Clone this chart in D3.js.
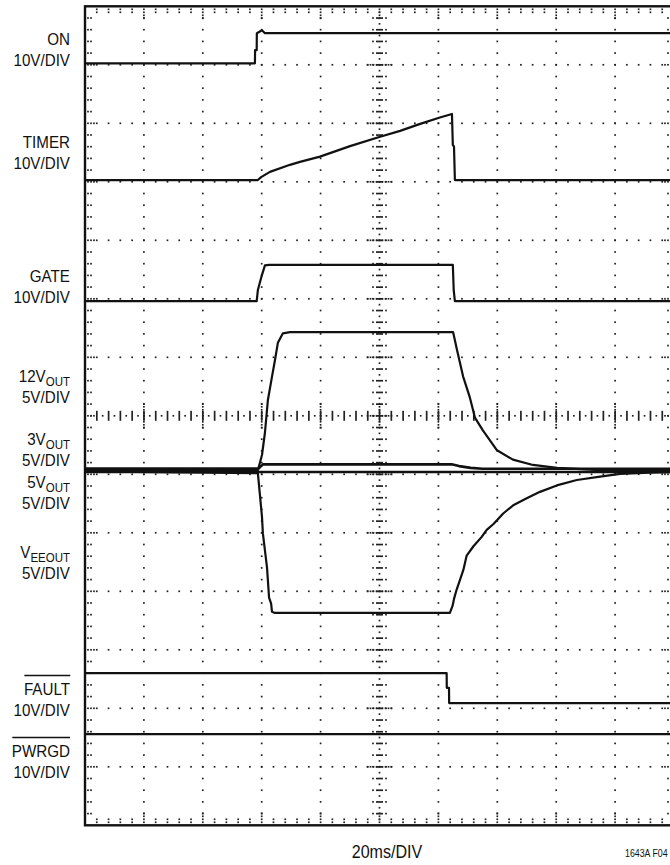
<!DOCTYPE html>
<html>
<head>
<meta charset="utf-8">
<script src="https://cdn.jsdelivr.net/npm/d3@7"></script>
<style>
body { margin: 0; background: #fff; }
svg { display: block; }
text { font-family: "Liberation Sans", Arial, Helvetica, sans-serif; fill: #111; }
</style>
</head>
<body>
<script>
// scope settings: 10 x 14 divisions, 20ms/div
var timeSpan = 200;

// traces: time in ms, values in volts
var onT = [0, 57.7, 57.75, 58.3, 58.35, 60.1, 61.1, 200];
var onV = [0.26, 0.26, 2.5, 2.5, 5.4, 5.9, 5.4, 5.4];

var timerT = [0, 58.7, 59.8, 62.8, 69.6, 73.0, 79.8, 90.0, 100.2, 107.0, 113.8, 120.5, 124.6, 124.9, 125.3, 125.6, 200];
var timerV = [0.3, 0.3, 0.8, 1.7, 2.9, 3.4, 4.3, 6.1, 7.7, 8.7, 9.9, 11.0, 11.6, 6.3, 6.0, 0.3, 0.3];

var gateT = [0, 58.3, 58.7, 60.1, 61.1, 62.5, 124.9, 125.2, 125.6, 200];
var gateV = [-0.4, -0.4, 1.5, 4.1, 5.7, 5.8, 5.8, 1.5, -0.4, -0.4];

var v12T = [0, 58.7, 60.1, 61.1, 62.1, 63.5, 64.5, 65.5, 67.2, 69.6, 125.0, 125.6, 126.3, 128.4, 130.7, 132.4, 135.1, 139.9, 145.3, 152.1, 160.3, 174.9, 200];
var v12V = [0, 0, 1.3, 3.2, 6.0, 8.0, 9.4, 10.9, 11.7, 11.8, 11.8, 11.1, 10.3, 8.0, 6.2, 4.5, 3.4, 1.7, 0.9, 0.45, 0.2, 0, 0];

var v3T = [0, 59.0, 60.4, 124.5, 127.0, 131.0, 135.0, 200];
var v3V = [0.15, 0.15, 0.5, 0.5, 0.35, 0.2, 0.12, 0.12];

var v5T = [0, 200];
var v5V = [-0.15, -0.15];

var veeT = [0, 58.7, 60.1, 60.4, 61.8, 62.5, 63.2, 63.5, 64.5, 123.9, 124.8, 125.3, 126.2, 127.3, 128.5, 129.6, 131.9, 134.7, 136.4, 138.7, 142.0, 145.4, 150.0, 154.5, 160.2, 167.0, 174.9, 181.7, 191.9, 200];
var veeV = [-0.1, -0.25, -4.0, -5.4, -8.3, -10.9, -11.4, -12.1, -12.2, -12.2, -11.6, -11.0, -10.2, -9.4, -8.5, -7.3, -6.5, -5.7, -5.1, -4.6, -3.7, -3.0, -2.4, -1.85, -1.3, -0.84, -0.55, -0.32, -0.2, -0.17];

var faultT = [0, 122.8, 122.85, 123.6, 123.65, 200];
var faultV = [5.1, 5.1, 2.6, 2.6, 0, 0];

var pwrgdT = [0, 200];
var pwrgdV = [0, 0];

// channel ground (divisions from top) and volts per division
var channelNames = ['ON', 'TIMER', 'GATE', '12V', '3V', '5V', 'VEE', 'FAULT', 'PWRGD'];
var channelGround = [1, 3, 5, 7.93, 7.93, 7.93, 7.93, 11.91, 12.44];
var channelScale = [10, 10, 10, 5, 5, 5, 5, 10, 10];
var channelT = [onT, timerT, gateT, v12T, v3T, v5T, veeT, faultT, pwrgdT];
var channelV = [onV, timerV, gateV, v12V, v3V, v5V, veeV, faultV, pwrgdV];

// labels at the left: [main, subscript] per line
var labelLines = [
    [['ON', ''], ['10V/DIV', '']],
    [['TIMER', ''], ['10V/DIV', '']],
    [['GATE', ''], ['10V/DIV', '']],
    [['12V', 'OUT'], ['5V/DIV', '']],
    [['3V', 'OUT'], ['5V/DIV', '']],
    [['5V', 'OUT'], ['5V/DIV', '']],
    [['V', 'EEOUT'], ['5V/DIV', '']],
    [['FAULT', ''], ['10V/DIV', '']],
    [['PWRGD', ''], ['10V/DIV', '']]
];
var labelOverline = [false, false, false, false, false, false, false, true, true];
var labelBase = [45, 148, 282, 382, 445, 488, 558, 695, 757];
var xAxisLabel = '20ms/DIV';
var figureId = '1643A F04';

var width = 670, height = 865,
    plotLeft = 85, plotTop = 6.3,
    divX = 58.9, divY = 58.5,
    nx = 10, ny = 14;

var x = d3.scaleLinear().domain([0, timeSpan]).range([plotLeft, plotLeft + nx * divX]);
var xd = d3.scaleLinear().domain([0, nx]).range([plotLeft, plotLeft + nx * divX]);
var yd = d3.scaleLinear().domain([0, ny]).range([plotTop, plotTop + ny * divY]);

var plotRight = xd(nx), plotBottom = yd(ny);

var svg = d3.select('body').append('svg')
    .attr('width', width)
    .attr('height', height);

// ---- graticule ----
var grid = svg.append('g').attr('fill', '#222');
var dot = 1.7;
var dots = [];
function addDot(px, py) { dots.push([px, py]); }

var minorX = d3.range(1, nx * 5).map(function(k) { return k / 5; });
var minorY = d3.range(1, ny * 5).map(function(k) { return k / 5; });

d3.range(1, ny).forEach(function(j) {
    if (j === ny / 2) return;
    minorX.forEach(function(d) { addDot(xd(d), yd(j)); });
});
d3.range(1, nx).forEach(function(i) {
    if (i === nx / 2) return;
    minorY.forEach(function(d) { addDot(xd(i), yd(d)); });
});

// center row: ticks at each minor, dots between
var cy = yd(ny / 2), cx = xd(nx / 2);
var ticks = [];
minorX.forEach(function(d) {
    ticks.push([xd(d) - 0.8, cy - 5, 1.7, 10]);
    addDot(xd(d - 0.1), cy);
});
addDot(xd(nx - 0.1), cy);
minorY.forEach(function(d) {
    ticks.push([cx - 3.5, yd(d) - 0.8, 7, 1.7]);
    addDot(cx - 6.5, yd(d));
    addDot(cx + 6.5, yd(d));
    addDot(cx, yd(d - 0.1));
});
addDot(cx, yd(ny - 0.1));
// denser dots where the center lines cross the major lines
d3.range(1, nx).forEach(function(i) {
    d3.range(-4, 5).forEach(function(k) { addDot(xd(i), cy + k * 3); });
});
d3.range(1, ny).forEach(function(j) {
    d3.range(-4, 5).forEach(function(k) { addDot(cx + k * 3, yd(j)); });
});

// border ticks
minorY.forEach(function(d) {
    var n = (Math.abs(d - Math.round(d)) < 1e-6) ? 3 : 2;
    d3.range(1, n + 1).forEach(function(k) {
        addDot(plotLeft + 3 * k, yd(d));
        addDot(plotRight - 3 * k, yd(d));
    });
});
minorX.forEach(function(d) {
    var n = (Math.abs(d - Math.round(d)) < 1e-6) ? 4 : 2;
    d3.range(1, n + 1).forEach(function(k) {
        addDot(xd(d), plotTop + 3 * k);
        addDot(xd(d), plotBottom - 3 * k);
    });
});

grid.selectAll('rect.dot')
    .data(dots)
    .enter().append('rect')
    .attr('class', 'dot')
    .attr('x', function(d) { return d[0] - dot / 2; })
    .attr('y', function(d) { return d[1] - dot / 2; })
    .attr('width', dot)
    .attr('height', dot);

grid.selectAll('rect.tick')
    .data(ticks)
    .enter().append('rect')
    .attr('class', 'tick')
    .attr('x', function(d) { return d[0]; })
    .attr('y', function(d) { return d[1]; })
    .attr('width', function(d) { return d[2]; })
    .attr('height', function(d) { return d[3]; });

// frame
svg.append('rect')
    .attr('x', plotLeft)
    .attr('y', plotTop)
    .attr('width', plotRight - plotLeft)
    .attr('height', plotBottom - plotTop)
    .attr('fill', 'none')
    .attr('stroke', '#111')
    .attr('stroke-width', 2.4);

// ---- traces ----
var traces = svg.append('g');
channelNames.forEach(function(name, c) {
    var pts = channelT[c].map(function(t, i) { return [t, channelV[c][i]]; });
    var line = d3.line()
        .x(function(d) { return x(d[0]); })
        .y(function(d) { return yd(channelGround[c] - d[1] / channelScale[c]); });
    traces.append('path')
        .datum(pts)
        .attr('class', 'trace ' + name)
        .attr('d', line)
        .attr('fill', 'none')
        .attr('stroke', '#111')
        .attr('stroke-width', (name === '3V' || name === '5V') ? 2.6 : 2.2)
        .attr('stroke-linejoin', 'round');
});

// ---- labels ----
var labels = svg.append('g');
labelLines.forEach(function(lines, c) {
    lines.forEach(function(ln, k) {
        var g = labels.append('g')
            .attr('transform', 'translate(70,' + (labelBase[c] + k * 20.5) + ')scale(0.92,1)');
        var t = g.append('text')
            .attr('text-anchor', 'end')
            .attr('font-size', '16.5px');
        t.append('tspan').text(ln[0]);
        if (ln[1]) {
            t.append('tspan')
                .attr('font-size', '12.5px')
                .attr('dy', 4)
                .text(ln[1]);
        }
        if (k === 0 && labelOverline[c]) {
            var b = t.node().getBBox();
            g.append('line')
                .attr('x1', b.x + 0.5)
                .attr('x2', b.x + b.width)
                .attr('y1', -19.5)
                .attr('y2', -19.5)
                .attr('stroke', '#111')
                .attr('stroke-width', 1.4);
        }
    });
});

svg.append('text')
    .attr('transform', 'translate(387,858)scale(0.92,1)')
    .attr('text-anchor', 'middle')
    .attr('font-size', '17.5px')
    .text(xAxisLabel);

svg.append('text')
    .attr('transform', 'translate(625,857)scale(0.84,1)')
    .attr('font-size', '10.5px')
    .text(figureId);
</script>
</body>
</html>
